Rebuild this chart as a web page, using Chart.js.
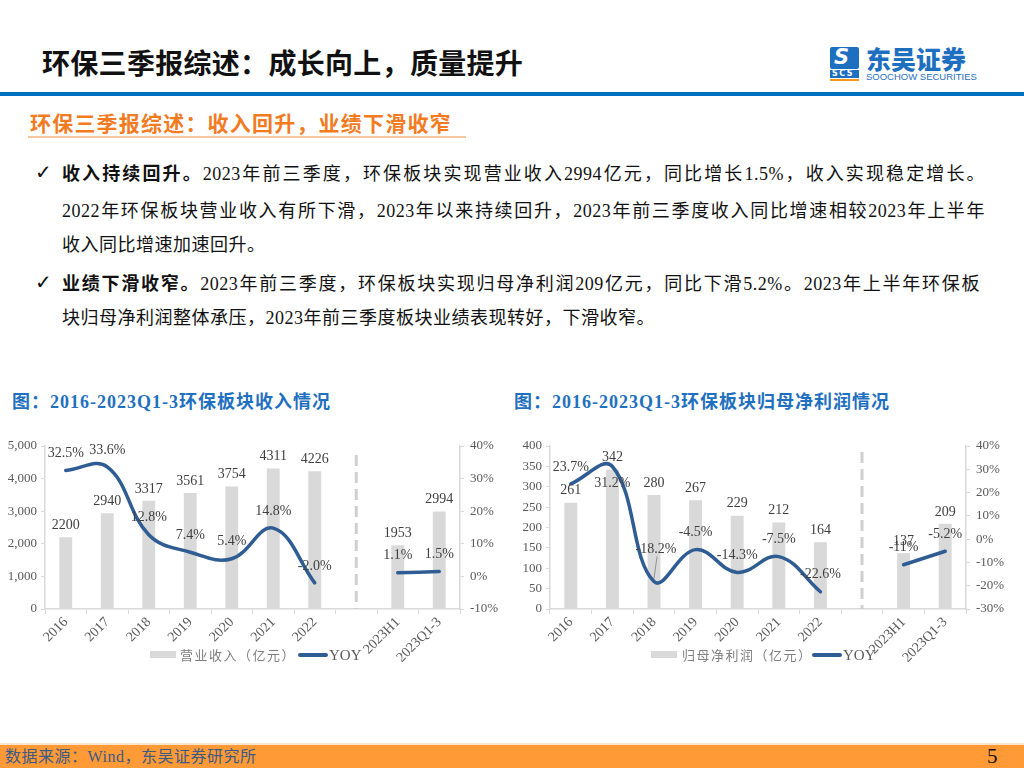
<!DOCTYPE html>
<html>
<head>
<meta charset="utf-8">
<script src="https://cdn.jsdelivr.net/npm/chart.js@4.4.0/dist/chart.umd.min.js"></script>
<style>
  html,body{margin:0;padding:0;background:#fff;}
  body{width:1024px;height:768px;position:relative;overflow:hidden;font-family:"Liberation Serif","Noto Sans CJK SC",serif;}
  .abs{position:absolute;white-space:nowrap;}
  #title{left:42px;top:43px;font-family:"Noto Sans CJK SC";font-weight:700;font-size:28px;line-height:38px;color:#111;letter-spacing:0.3px;}
  #blueLine{left:0;top:92px;width:1024px;height:4px;background:#0070C0;}
  #sub{left:30px;top:107px;font-family:"Noto Sans CJK SC";font-weight:700;font-size:21px;line-height:30px;color:#F27B1F;letter-spacing:1.2px;}
  #subLine{left:28px;top:136px;width:438px;height:2px;background:#F7C59F;}
  .check{font-family:"DejaVu Sans";font-size:20px;line-height:24px;color:#111;left:35px;}
  .ln{left:62px;width:923px;font-size:18px;line-height:24px;color:#111;letter-spacing:0.5px;}
  .just{text-align:justify;text-align-last:justify;}
  .ln b{font-family:"Noto Sans CJK SC";font-weight:700;}
  .ctitle{font-family:"Liberation Serif","Noto Sans CJK SC";font-weight:700;font-size:18px;color:#1F70BF;letter-spacing:1px;line-height:24px;}
  .lgText{font-family:"Noto Sans CJK SC";font-size:13px;color:#7F7F7F;line-height:16px;letter-spacing:1.5px;}
  .lgBox{background:#D9D9D9;height:7px;width:26px;}
  .lgLine{background:#2F5D93;height:4px;width:30px;border-radius:2px;}
  .lgYoy{font-size:15px;color:#595959;line-height:16px;}
  #footLine{left:0;top:743px;width:1024px;height:2px;background:#FBE3CC;}
  #foot{left:0;top:745px;width:1024px;height:23px;background:#FF9A36;}
  #src{left:5px;top:746px;font-size:16px;line-height:22px;color:#3C5A86;font-family:"Liberation Serif","Noto Sans CJK SC";letter-spacing:0.5px;}
  #page{left:987px;top:744px;font-size:21px;line-height:24px;color:#111;}
  canvas{position:absolute;}
</style>
</head>
<body>
<div class="abs" id="title">环保三季报综述：成长向上，质量提升</div>
<!-- logo -->
<div class="abs" style="left:830px;top:47px;width:29px;height:22px;background:#1F6FC0;border-radius:2px;"></div>
<div class="abs" style="left:834px;top:44px;font-family:'DejaVu Sans';font-weight:700;font-style:italic;font-size:21px;line-height:26px;color:#fff;">S</div>
<div class="abs" style="left:830px;top:70px;width:29px;height:8px;background:#1F6FC0;"></div>
<div class="abs" style="left:832px;top:69px;font-family:'DejaVu Sans';font-weight:700;font-size:8px;line-height:10px;color:#fff;letter-spacing:1.5px;">SCS</div>
<div class="abs" style="left:830px;top:79px;width:29px;height:2px;background:#F7941D;"></div>
<div class="abs" style="left:866px;top:43px;font-family:'Noto Sans CJK SC';font-weight:900;font-size:25px;line-height:30px;color:#1F6FC0;letter-spacing:0px;">东吴证券</div>
<div class="abs" style="left:866px;top:71px;font-family:'Liberation Sans';font-size:9.5px;line-height:11px;color:#1F6FC0;">SOOCHOW SECURITIES</div>

<div class="abs" id="blueLine"></div>
<div class="abs" id="sub">环保三季报综述：收入回升，业绩下滑收窄</div>
<div class="abs" id="subLine"></div>

<div class="abs check" style="top:160px;">✓</div>
<div class="abs ln just" style="top:160px;"><b>收入持续回升。</b>2023年前三季度，环保板块实现营业收入2994亿元，同比增长1.5%，收入实现稳定增长。</div>
<div class="abs ln just" style="top:199px;">2022年环保板块营业收入有所下滑，2023年以来持续回升，2023年前三季度收入同比增速相较2023年上半年</div>
<div class="abs ln" style="top:233px;">收入同比增速加速回升。</div>
<div class="abs check" style="top:270px;">✓</div>
<div class="abs ln just" style="top:270px;width:918px;"><b>业绩下滑收窄。</b>2023年前三季度，环保板块实现归母净利润209亿元，同比下滑5.2%。2023年上半年环保板</div>
<div class="abs ln" style="top:306px;">块归母净利润整体承压，2023年前三季度板块业绩表现转好，下滑收窄。</div>

<div class="abs ctitle" style="left:12px;top:390px;">图：2016-2023Q1-3环保板块收入情况</div>
<div class="abs ctitle" style="left:514px;top:390px;">图：2016-2023Q1-3环保板块归母净利润情况</div>

<canvas id="c1" width="500" height="240" style="left:0;top:430px;width:500px;height:240px;"></canvas>
<canvas id="c2" width="519" height="240" style="left:505px;top:430px;width:519px;height:240px;"></canvas>

<!-- legends -->
<div class="abs lgBox" style="left:150px;top:651px;"></div>
<div class="abs lgText" style="left:180px;top:647px;">营业收入（亿元）</div>
<div class="abs lgLine" style="left:298px;top:653px;"></div>
<div class="abs lgYoy" style="left:329px;top:647px;">YOY</div>

<div class="abs lgBox" style="left:651px;top:651px;"></div>
<div class="abs lgText" style="left:682px;top:647px;">归母净利润（亿元）</div>
<div class="abs lgLine" style="left:812px;top:653px;"></div>
<div class="abs lgYoy" style="left:843px;top:647px;">YOY</div>

<div class="abs" id="footLine"></div>
<div class="abs" id="foot"></div>
<div class="abs" id="src">数据来源：Wind，东吴证券研究所</div>
<div class="abs" id="page">5</div>

<script>
// ---------- data ----------
const categories = ['2016','2017','2018','2019','2020','2021','2022','','2023H1','2023Q1-3'];

const revenue = [2200, 2940, 3317, 3561, 3754, 4311, 4226, null, 1953, 2994];
const revenueYoy = [32.5, 33.6, 12.8, 7.4, 5.4, 14.8, -2.0, null, 1.1, 1.5];
const revenueYoyText = ['32.5%','33.6%','12.8%','7.4%','5.4%','14.8%','-2.0%','','1.1%','1.5%'];
const revenueTicksLeft = [0, 1000, 2000, 3000, 4000, 5000];
const revenueTicksRight = [-10, 0, 10, 20, 30, 40];

const profit = [261, 342, 280, 267, 229, 212, 164, null, 137, 209];
const profitYoy = [23.7, 31.2, -18.2, -4.5, -14.3, -7.5, -22.6, null, -11, -5.2];
const profitYoyText = ['23.7%','31.2%','-18.2%','-4.5%','-14.3%','-7.5%','-22.6%','','-11%','-5.2%'];
const profitTicksLeft = [0, 50, 100, 150, 200, 250, 300, 350, 400];
const profitTicksRight = [-30, -20, -10, 0, 10, 20, 30, 40];

// ---------- styling ----------
const BAR_COLOR = '#D9D9D9';
const LINE_COLOR = '#2F5D93';
const AXIS_COLOR = '#D9D9D9';
const TICK_COLOR = '#595959';
const LABEL_COLOR = '#404040';
const TICK_FONT = {family: 'Liberation Serif', size: 13};
const XTICK_FONT = {family: 'Liberation Serif', size: 14};

const labelPlugin = {
  id: 'valueLabels',
  afterDatasetsDraw(chart, args, opts) {
    const ctx = chart.ctx;
    ctx.save();
    ctx.font = '14px "Liberation Serif"';
    ctx.fillStyle = LABEL_COLOR;
    ctx.textAlign = 'center';
    ctx.textBaseline = 'middle';
    const barMeta = chart.getDatasetMeta(0);
    barMeta.data.forEach((el, i) => {
      const v = chart.data.datasets[0].data[i];
      if (v == null) return;
      ctx.fillText(String(v), el.x, el.y - 12);
    });
    const lineMeta = chart.getDatasetMeta(1);
    lineMeta.data.forEach((el, i) => {
      const v = chart.data.datasets[1].data[i];
      if (v == null) return;
      const t = opts.texts[i];
      if (opts.below.includes(i)) {
        ctx.fillText(t, el.x, el.y + 17);
      } else if (opts.leader.includes(i)) {
        ctx.fillText(t, el.x + 2, el.y - 32);
        ctx.strokeStyle = '#7F7F7F';
        ctx.lineWidth = 0.8;
        ctx.beginPath();
        ctx.moveTo(el.x + 3, el.y - 25);
        ctx.lineTo(el.x, el.y - 3);
        ctx.stroke();
      } else {
        ctx.fillText(t, el.x, el.y - 17);
      }
    });
    ctx.restore();
  }
};

const dividerPlugin = {
  id: 'divider',
  beforeDatasetsDraw(chart, args, opts) {
    const x = chart.scales.x.getPixelForValue(opts.index);
    const ctx = chart.ctx;
    ctx.save();
    ctx.strokeStyle = '#CFCFCF';
    ctx.lineWidth = 3;
    ctx.setLineDash([11, 6]);
    ctx.beginPath();
    ctx.moveTo(x, chart.chartArea.top + opts.top);
    ctx.lineTo(x, chart.chartArea.bottom);
    ctx.stroke();
    ctx.restore();
  }
};

function makeChart(id, bars, yoy, yoyText, leftTicks, rightTicks, leftFmt, rightW, below, leader, divTop) {
  return new Chart(document.getElementById(id), {
    data: {
      labels: categories,
      datasets: [
        {type: 'bar', data: bars, backgroundColor: BAR_COLOR, barPercentage: 0.31, categoryPercentage: 1, yAxisID: 'y', order: 1},
        {type: 'line', data: yoy, borderColor: LINE_COLOR, borderWidth: 3.5, tension: 0.4, pointRadius: 0, spanGaps: false,
         borderCapStyle: 'round', borderJoinStyle: 'round', yAxisID: 'y1', order: 0}
      ]
    },
    options: {
      responsive: false,
      animation: false,
      layout: {padding: {top: 16, left: 0, right: 0, bottom: 0}},
      plugins: {
        legend: {display: false},
        tooltip: {enabled: false},
        valueLabels: {texts: yoyText, below: below, leader: leader},
        divider: {index: 7, top: divTop}
      },
      scales: {
        x: {
          offset: true,
          grid: {offset: true, drawOnChartArea: false, drawTicks: true, tickLength: 5, color: AXIS_COLOR},
          border: {color: AXIS_COLOR, width: 1.5},
          ticks: {font: XTICK_FONT, color: TICK_COLOR, maxRotation: 45, minRotation: 45, autoSkip: false, padding: 0},
          afterFit(s) { s.height = 61; }
        },
        y: {
          position: 'left',
          min: leftTicks[0], max: leftTicks[leftTicks.length - 1],
          afterBuildTicks(s) { s.ticks = leftTicks.map(v => ({value: v})); },
          grid: {drawOnChartArea: false, drawTicks: true, tickLength: 4, color: AXIS_COLOR},
          border: {color: AXIS_COLOR, width: 1.5},
          ticks: {font: TICK_FONT, color: TICK_COLOR, padding: 4, callback: leftFmt},
          afterFit(s) { s.width = 45; }
        },
        y1: {
          position: 'right',
          min: rightTicks[0], max: rightTicks[rightTicks.length - 1],
          afterBuildTicks(s) { s.ticks = rightTicks.map(v => ({value: v})); },
          grid: {drawOnChartArea: false, drawTicks: true, tickLength: 4, color: AXIS_COLOR},
          border: {color: AXIS_COLOR, width: 1.5},
          ticks: {font: TICK_FONT, color: TICK_COLOR, padding: 6, callback: v => v + '%'},
          afterFit(s) { s.width = rightW; }
        }
      }
    },
    plugins: [labelPlugin, dividerPlugin]
  });
}

makeChart('c1', revenue, revenueYoy, revenueYoyText, revenueTicksLeft, revenueTicksRight,
  v => v.toLocaleString('en-US'), 40, [], [], 9);
makeChart('c2', profit, profitYoy, profitYoyText, profitTicksLeft, profitTicksRight,
  v => String(v), 58, [1], [2], 6);
</script>
</body>
</html>
